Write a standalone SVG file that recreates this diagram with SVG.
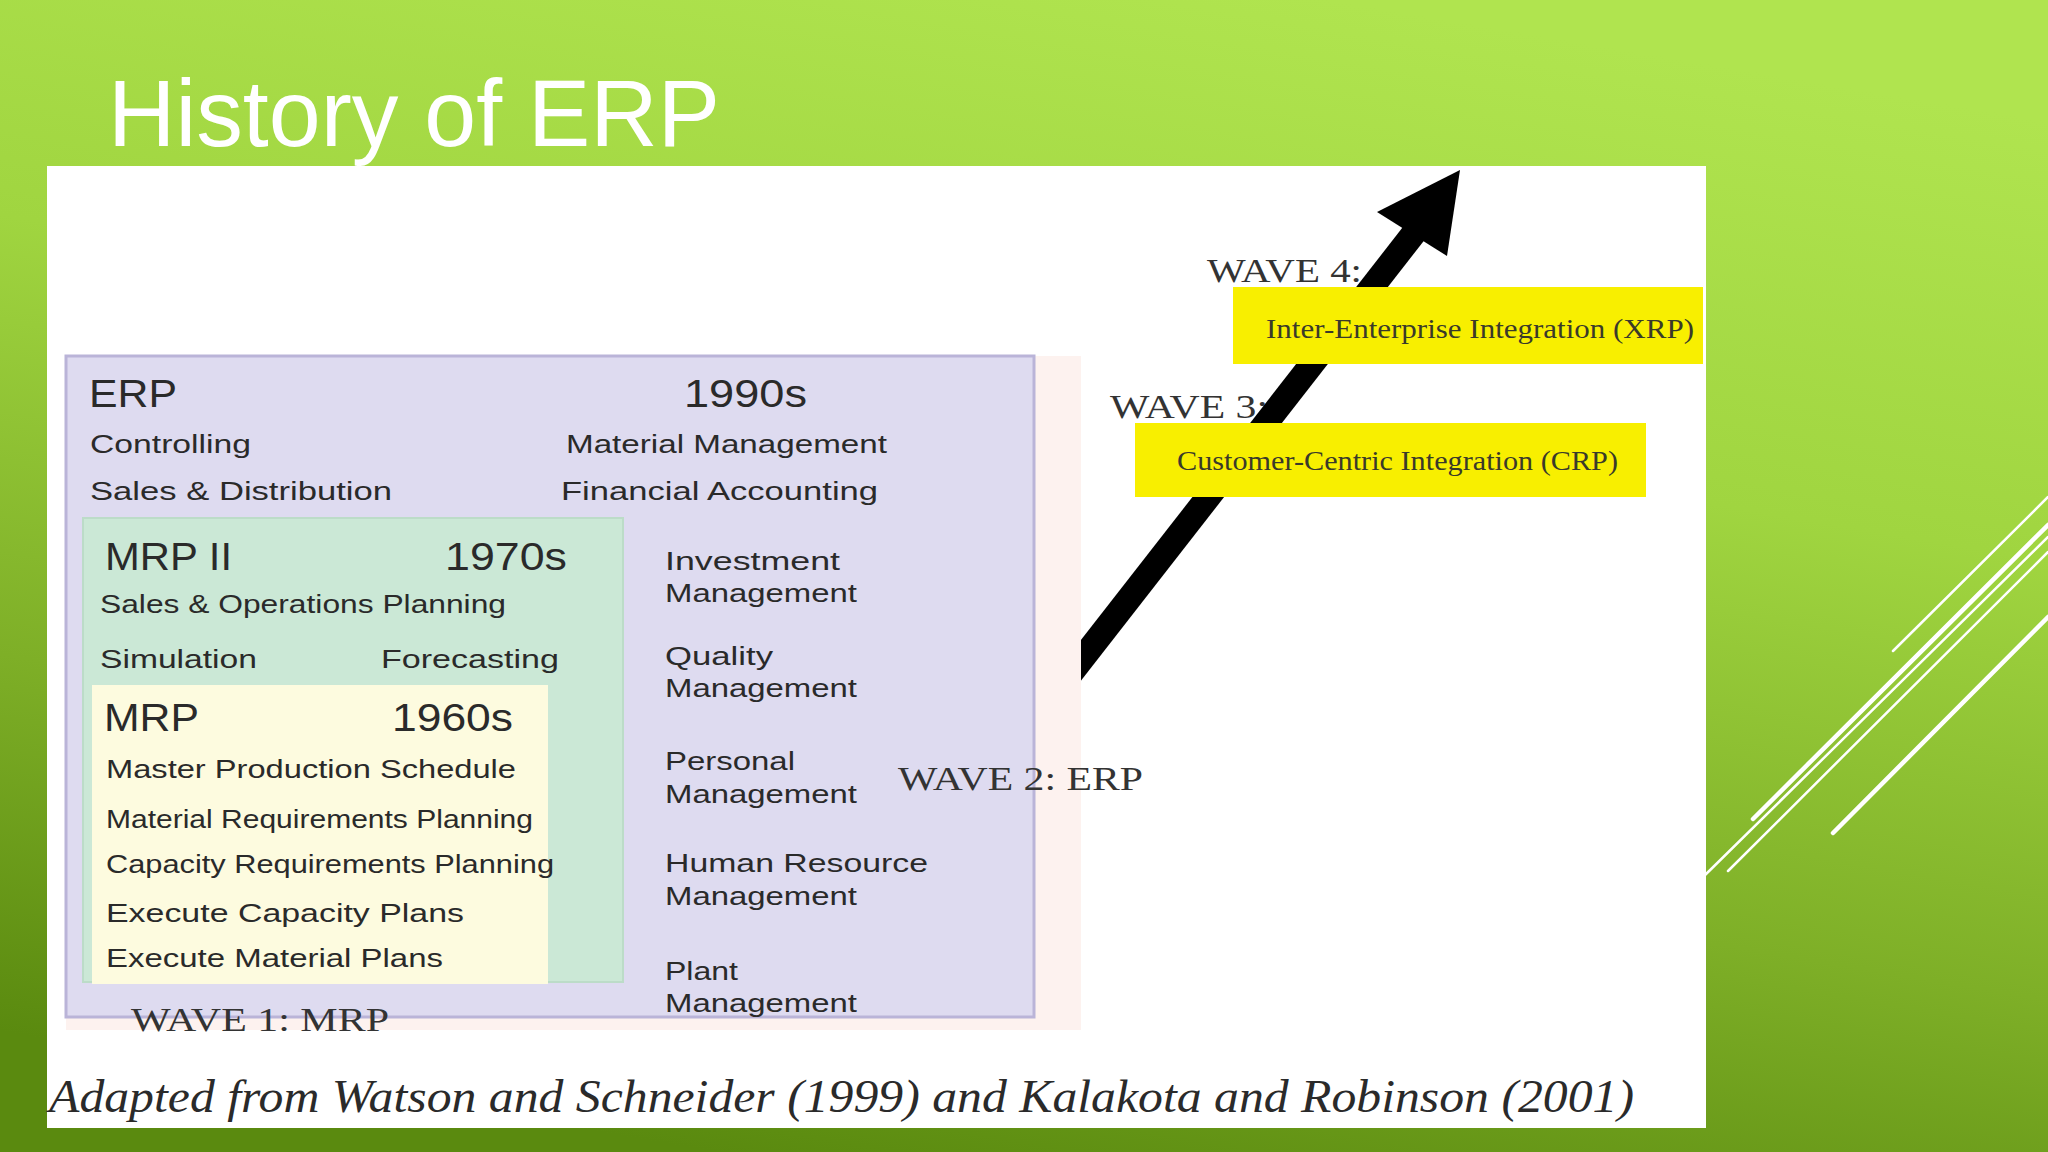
<svg xmlns="http://www.w3.org/2000/svg" width="2048" height="1152" viewBox="0 0 2048 1152">
  <defs>
    <linearGradient id="bg" x1="0.65" y1="0" x2="0.35" y2="1">
      <stop offset="0" stop-color="#b0e44f"/>
      <stop offset="0.35" stop-color="#a0d540"/>
      <stop offset="0.7" stop-color="#7eaf27"/>
      <stop offset="1" stop-color="#5a8a0f"/>
    </linearGradient>
    <style>
      .sans { font-family: "Liberation Sans", Arial, sans-serif; fill: #2a2a2a; }
      .head { font-size: 38px; }
      .body { font-size: 25px; }
      .serif { font-family: "Liberation Serif", "Times New Roman", serif; fill: #333333; }
      .wave { font-size: 33px; }
      .ybox { fill: #f8ef00; }
      .ytext { font-size: 27px; fill: #3a3a2a; }
      .deco { stroke: #ffffff; stroke-linecap: round; fill: none; }
    </style>
  </defs>

  <rect x="0" y="0" width="2048" height="1152" fill="url(#bg)"/>

  <g id="decor">
    <line class="deco" x1="1893" y1="651" x2="2048" y2="497" stroke-width="2.5"/>
    <line class="deco" x1="1753" y1="819" x2="2048" y2="525" stroke-width="4.5"/>
    <line class="deco" x1="1700" y1="880" x2="2048" y2="537" stroke-width="2.5"/>
    <line class="deco" x1="1728" y1="871" x2="2048" y2="552" stroke-width="2.5"/>
    <line class="deco" x1="1833" y1="833" x2="2048" y2="617" stroke-width="4.5"/>
  </g>

  <text id="title" x="108" y="146" font-family="Liberation Sans, Arial, sans-serif" font-size="95" fill="#ffffff" textLength="612" lengthAdjust="spacingAndGlyphs">History of ERP</text>

  <rect id="panel" x="47" y="166" width="1659" height="962" fill="#ffffff"/>

  <g id="wave-labels">
    <text class="serif wave" x="1207" y="282" textLength="155" lengthAdjust="spacingAndGlyphs">WAVE 4:</text>
    <text class="serif wave" x="1110" y="418" textLength="158" lengthAdjust="spacingAndGlyphs">WAVE 3:</text>
  </g>

  <g id="connectors">
    <line x1="1050" y1="700" x2="1418" y2="228" stroke="#000000" stroke-width="25"/>
    <polygon points="1460,170 1377,212 1447,256" fill="#000000"/>
  </g>

  <rect id="backdrop" x="66" y="356" width="1015" height="674" fill="#fdf2ef"/>

  <g id="erp">
    <rect x="66" y="356" width="968" height="661" fill="#dedbf0" stroke="#bab4d8" stroke-width="3"/>
    <text class="sans head" x="89" y="407" textLength="88" lengthAdjust="spacingAndGlyphs">ERP</text>
    <text class="sans head" x="684" y="407" textLength="123" lengthAdjust="spacingAndGlyphs">1990s</text>
    <text class="sans body" x="90" y="453" textLength="161" lengthAdjust="spacingAndGlyphs">Controlling</text>
    <text class="sans body" x="566" y="453" textLength="321" lengthAdjust="spacingAndGlyphs">Material  Management</text>
    <text class="sans body" x="90" y="500" textLength="302" lengthAdjust="spacingAndGlyphs">Sales  &amp;  Distribution</text>
    <text class="sans body" x="561" y="500" textLength="317" lengthAdjust="spacingAndGlyphs">Financial  Accounting</text>
    <text class="sans body" x="665" y="570" textLength="175" lengthAdjust="spacingAndGlyphs">Investment</text>
    <text class="sans body" x="665" y="602" textLength="192" lengthAdjust="spacingAndGlyphs">Management</text>
    <text class="sans body" x="665" y="665" textLength="108" lengthAdjust="spacingAndGlyphs">Quality</text>
    <text class="sans body" x="665" y="697" textLength="192" lengthAdjust="spacingAndGlyphs">Management</text>
    <text class="sans body" x="665" y="770" textLength="130" lengthAdjust="spacingAndGlyphs">Personal</text>
    <text class="sans body" x="665" y="803" textLength="192" lengthAdjust="spacingAndGlyphs">Management</text>
    <text class="sans body" x="665" y="872" textLength="263" lengthAdjust="spacingAndGlyphs">Human  Resource</text>
    <text class="sans body" x="665" y="905" textLength="192" lengthAdjust="spacingAndGlyphs">Management</text>
    <text class="sans body" x="665" y="980" textLength="73" lengthAdjust="spacingAndGlyphs">Plant</text>
    <text class="sans body" x="665" y="1012" textLength="192" lengthAdjust="spacingAndGlyphs">Management</text>
  </g>

  <g id="mrp2">
    <rect x="83" y="518" width="540" height="464" fill="#cbe8d6" stroke="#bcdcc8" stroke-width="2"/>
    <text class="sans head" x="105" y="570" textLength="127" lengthAdjust="spacingAndGlyphs">MRP II</text>
    <text class="sans head" x="445" y="570" textLength="122" lengthAdjust="spacingAndGlyphs">1970s</text>
    <text class="sans body" x="100" y="613" textLength="406" lengthAdjust="spacingAndGlyphs">Sales  &amp;  Operations  Planning</text>
    <text class="sans body" x="100" y="668" textLength="157" lengthAdjust="spacingAndGlyphs">Simulation</text>
    <text class="sans body" x="381" y="668" textLength="178" lengthAdjust="spacingAndGlyphs">Forecasting</text>
  </g>

  <g id="mrp">
    <rect x="92" y="685" width="456" height="299" fill="#fdfbdf"/>
    <text class="sans head" x="104" y="731" textLength="95" lengthAdjust="spacingAndGlyphs">MRP</text>
    <text class="sans head" x="392" y="731" textLength="121" lengthAdjust="spacingAndGlyphs">1960s</text>
    <text class="sans body" x="106" y="778" textLength="410" lengthAdjust="spacingAndGlyphs">Master  Production  Schedule</text>
    <text class="sans body" x="106" y="828" textLength="427" lengthAdjust="spacingAndGlyphs">Material  Requirements  Planning</text>
    <text class="sans body" x="106" y="873" textLength="448" lengthAdjust="spacingAndGlyphs">Capacity  Requirements  Planning</text>
    <text class="sans body" x="106" y="922" textLength="358" lengthAdjust="spacingAndGlyphs">Execute  Capacity  Plans</text>
    <text class="sans body" x="106" y="967" textLength="337" lengthAdjust="spacingAndGlyphs">Execute  Material  Plans</text>
  </g>

  <text id="wave1" class="serif wave" x="131" y="1031" textLength="258" lengthAdjust="spacingAndGlyphs">WAVE 1: MRP</text>
  <text id="wave2" class="serif wave" x="898" y="790" textLength="245" lengthAdjust="spacingAndGlyphs">WAVE 2: ERP</text>

  <g id="xrp">
    <rect class="ybox" x="1233" y="287" width="470" height="77"/>
    <text class="serif ytext" x="1266" y="338" textLength="428" lengthAdjust="spacingAndGlyphs">Inter-Enterprise  Integration  (XRP)</text>
  </g>

  <g id="crp">
    <rect class="ybox" x="1135" y="423" width="511" height="74"/>
    <text class="serif ytext" x="1177" y="470" textLength="441" lengthAdjust="spacingAndGlyphs">Customer-Centric  Integration  (CRP)</text>
  </g>

  <text id="caption" x="49" y="1112" font-family="Liberation Serif, Times New Roman, serif" font-style="italic" font-size="46" fill="#2a2a2a" textLength="1585" lengthAdjust="spacingAndGlyphs">Adapted from Watson and Schneider (1999) and Kalakota and Robinson (2001)</text>
</svg>
